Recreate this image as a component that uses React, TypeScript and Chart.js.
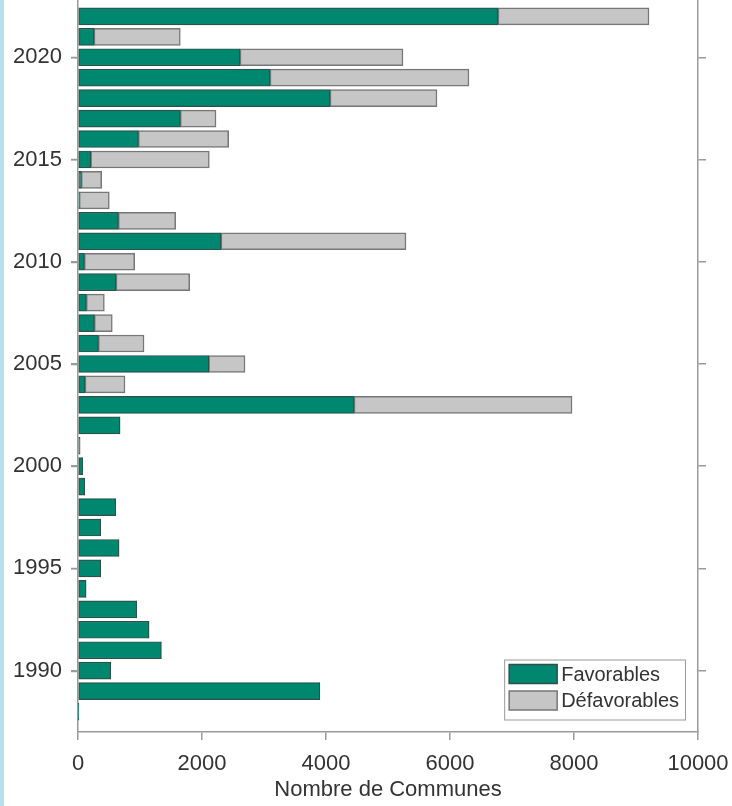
import React, { useEffect, useRef } from "react";
import { Chart, registerables } from "chart.js";

Chart.register(...registerables);

// Years shown, bottom (1988) to top (2022)
const years = [
  1988, 1989, 1990, 1991, 1992, 1993, 1994, 1995, 1996, 1997, 1998, 1999,
  2000, 2001, 2002, 2003, 2004, 2005, 2006, 2007, 2008, 2009, 2010, 2011,
  2012, 2013, 2014, 2015, 2016, 2017, 2018, 2019, 2020, 2021, 2022,
];

// Communes with a favourable decision, per year
const favorables = [
  5, 3900, 527, 1344, 1145, 946, 129, 366, 661, 366, 608, 108,
  75, 32, 677, 4452, 113, 2108, 328, 263, 134, 613, 102, 2306,
  650, 20, 53, 205, 973, 1650, 4065, 3097, 2613, 258, 6774,
];

// Communes with an unfavourable decision, per year
const defavorables = [
  0, 0, 0, 0, 0, 0, 0, 0, 0, 0, 0, 0,
  0, 0, 0, 3516, 645, 586, 737, 290, 291, 1188, 812, 2984,
  925, 485, 329, 1913, 1457, 576, 1725, 3209, 2629, 1392, 2436,
];

const yearTicks = [1990, 1995, 2000, 2005, 2010, 2015, 2020];
const valueTicks = [0, 2000, 4000, 6000, 8000, 10000];

const seriesLabels = ["Favorables", "Défavorables"];

const GREEN = "#00876F";
const GREY = "#C6C6C6";
const AXIS = "#9A9A9A";
const TEXT = "#333333";
const FONT = "'Liberation Sans', Arial, sans-serif";

// Short outward tick marks on the left year axis
const leftYearTicks = {
  id: "leftYearTicks",
  afterDraw(chart: any) {
    const { ctx, chartArea, scales } = chart;
    ctx.save();
    ctx.strokeStyle = AXIS;
    ctx.lineWidth = 1.5;
    yearTicks.forEach((v) => {
      const py = Math.round(scales.y.getPixelForValue(v)) + 0.5;
      ctx.beginPath();
      ctx.moveTo(chartArea.left - 7, py);
      ctx.lineTo(chartArea.left, py);
      ctx.stroke();
    });
    ctx.restore();
  },
};

// Boxed legend drawn inside the lower-right corner of the plot area
const insideLegend = {
  id: "insideLegend",
  afterDraw(chart: any) {
    const { ctx, chartArea } = chart;
    const fills = [GREEN, GREY];
    const strokes = ["#2F4F47", "#777777"];
    ctx.save();
    ctx.font = `20px ${FONT}`;
    const textW = Math.max(...seriesLabels.map((t) => ctx.measureText(t).width));
    const sw = 48;
    const sh = 19;
    const rowH = 26.5;
    const boxW = 5 + sw + 4 + textW + 6;
    const boxH = 8 + rowH * 2 - 1;
    const x0 = chartArea.right - 13 - boxW;
    const y0 = chartArea.bottom - 12.5 - boxH;
    ctx.fillStyle = "#FFFFFF";
    ctx.fillRect(x0, y0, boxW, boxH);
    ctx.strokeStyle = AXIS;
    ctx.lineWidth = 1;
    ctx.strokeRect(x0 + 0.5, y0 + 0.5, boxW, boxH);
    seriesLabels.forEach((label, i) => {
      const sy = y0 + 5 + i * rowH;
      ctx.fillStyle = fills[i];
      ctx.fillRect(x0 + 5, sy, sw, sh);
      ctx.strokeStyle = strokes[i];
      ctx.lineWidth = 1.5;
      ctx.strokeRect(x0 + 5, sy, sw, sh);
      ctx.fillStyle = TEXT;
      ctx.textBaseline = "middle";
      ctx.textAlign = "left";
      ctx.fillText(label, x0 + 5 + sw + 4, sy + sh / 2 + 1);
    });
    ctx.restore();
  },
};

export default function App() {
  const canvasRef = useRef<HTMLCanvasElement | null>(null);

  useEffect(() => {
    if (!canvasRef.current) return;
    const fixTicks = (scale: any) => {
      scale.ticks = yearTicks.map((v) => ({ value: v }));
    };
    const noPad = (scale: any) => {
      scale.paddingTop = 0;
      scale.paddingBottom = 0;
      scale.paddingLeft = 0;
      scale.paddingRight = 0;
    };
    const chart = new Chart(canvasRef.current, {
      type: "bar",
      data: {
        datasets: [
          {
            label: seriesLabels[0],
            data: years.map((y, i) => ({ x: favorables[i], y })),
            backgroundColor: GREEN,
            borderColor: "#2F4F47",
            borderWidth: 1.2,
            borderSkipped: false,
            barThickness: 17,
          },
          {
            label: seriesLabels[1],
            data: years.map((y, i) => ({ x: defavorables[i], y })),
            backgroundColor: GREY,
            borderColor: "#777777",
            borderWidth: defavorables.map((v) => (v > 0 ? 1.5 : 0)),
            borderSkipped: false,
            barThickness: 17,
          },
        ],
      } as any,
      options: {
        indexAxis: "y",
        animation: false,
        responsive: false,
        layout: { padding: 0 },
        plugins: {
          legend: { display: false },
          tooltip: { enabled: false },
        },
        scales: {
          x: {
            type: "linear",
            stacked: true,
            min: 0,
            max: 10000,
            offset: false,
            afterBuildTicks: (scale: any) => {
              scale.ticks = valueTicks.map((v) => ({ value: v }));
            },
            afterFit: (scale: any) => {
              scale.height = 74;
              noPad(scale);
            },
            grid: {
              offset: false,
              drawOnChartArea: false,
              drawTicks: true,
              tickLength: 8,
              color: AXIS,
              lineWidth: 1.5,
            },
            border: { display: true, color: AXIS, width: 1.5 },
            ticks: {
              padding: 11,
              color: TEXT,
              font: { family: FONT, size: 22 },
              maxRotation: 0,
              callback: (v: any) => String(v),
            },
            title: {
              display: true,
              text: "Nombre de Communes",
              color: TEXT,
              font: { family: FONT, size: 22 },
              padding: { top: 0, bottom: 3 },
            },
          },
          y: {
            type: "linear",
            position: "left",
            stacked: true,
            offset: false,
            min: 1987,
            max: 2022.8,
            afterBuildTicks: fixTicks,
            afterFit: (scale: any) => {
              scale.width = 78;
              noPad(scale);
            },
            grid: {
              offset: false,
              drawOnChartArea: false,
              drawTicks: true,
              tickLength: 7,
              color: AXIS,
              lineWidth: 1.5,
            },
            border: { display: true, color: AXIS, width: 1.5 },
            ticks: {
              padding: 9,
              color: TEXT,
              font: { family: FONT, size: 22 },
              callback: (v: any) => String(v),
            },
          },
          y2: {
            type: "linear",
            position: "right",
            offset: false,
            min: 1987,
            max: 2022.8,
            afterBuildTicks: fixTicks,
            afterFit: (scale: any) => {
              scale.width = 34;
              noPad(scale);
            },
            grid: {
              offset: false,
              drawOnChartArea: false,
              drawTicks: true,
              tickLength: 8,
              color: AXIS,
              lineWidth: 1.5,
            },
            border: { display: true, color: AXIS, width: 1.5 },
            ticks: { display: false },
          },
        },
      } as any,
      plugins: [leftYearTicks, insideLegend],
    });
    return () => chart.destroy();
  }, []);

  return (
    <div style={{ position: "absolute", left: 0, top: 0, width: 732, height: 806, background: "#FFFFFF" }}>
      <div style={{ position: "absolute", left: 0, top: 0, width: 4, height: 806, background: "#B5E0EC" }} />
      <canvas ref={canvasRef} width={732} height={806} style={{ display: "block" }} />
    </div>
  );
}
